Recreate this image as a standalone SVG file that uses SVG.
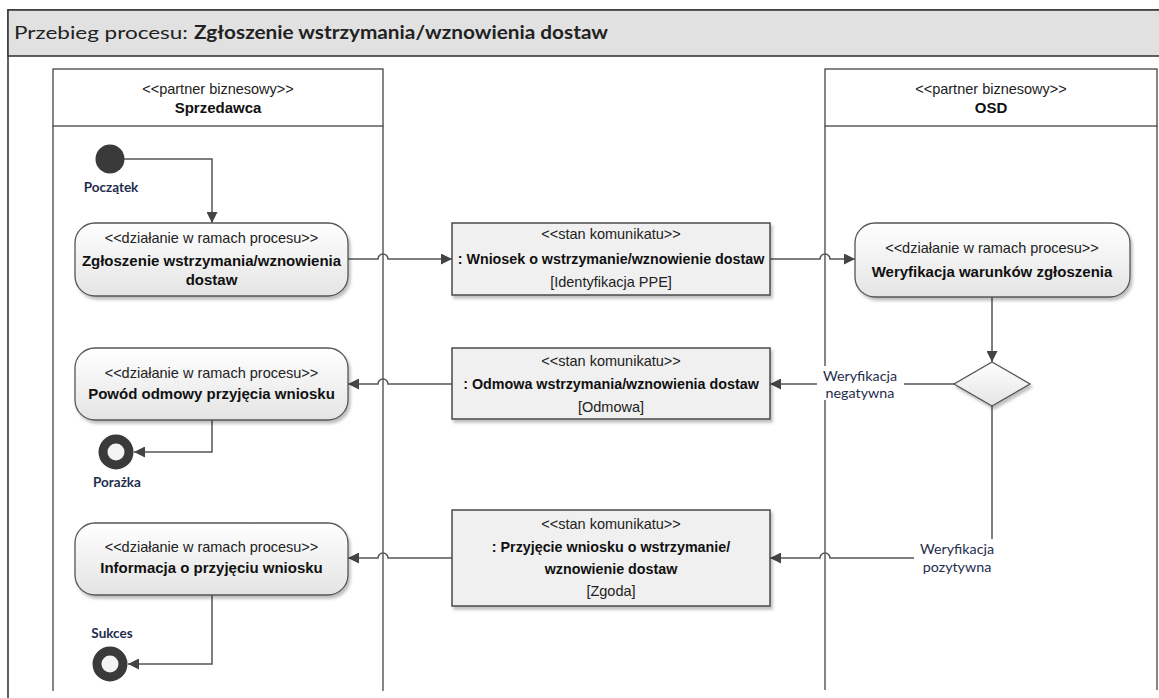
<svg xmlns="http://www.w3.org/2000/svg" width="1159" height="698" viewBox="0 0 1159 698">
<defs>
<linearGradient id="gNode" x1="0" y1="0" x2="0" y2="1">
<stop offset="0" stop-color="#ffffff"/>
<stop offset="1" stop-color="#e4e4e4"/>
</linearGradient>
<filter id="sh" x="-5%" y="-10%" width="115%" height="130%">
<feDropShadow dx="2" dy="3" stdDeviation="1.5" flood-color="#000" flood-opacity="0.25"/>
</filter>
<marker id="arr" viewBox="0 0 10 10" refX="10" refY="5" markerWidth="11" markerHeight="11" markerUnits="userSpaceOnUse" orient="auto">
<path d="M0,0 L10,5 L0,10 Z" fill="#444"/>
</marker>
<style>
.frame{fill:none;stroke:#3a3a3a;stroke-width:1.6}
.title{fill:#e1e1e1;stroke:#3a3a3a;stroke-width:1.6}
.lane{fill:none;stroke:#444;stroke-width:1.3}
.node{fill:url(#gNode);stroke:#555;stroke-width:1.3;filter:url(#sh)}
.msg{fill:#f0f0f0;stroke:#4a4a4a;stroke-width:1.5;filter:url(#sh)}
.conn{fill:none;stroke:#555;stroke-width:1.5}
.st{font-family:"Liberation Sans",Arial,sans-serif;font-size:14.5px;fill:#222;text-anchor:middle}
.nm{font-family:"Liberation Sans",Arial,sans-serif;font-size:15px;font-weight:bold;fill:#111;text-anchor:middle}
.nmb{font-family:"Liberation Sans",Arial,sans-serif;font-size:14.3px;font-weight:bold;fill:#111;text-anchor:middle}
.lbl{font-family:Lato,"Open Sans",sans-serif;font-size:14.3px;fill:#1f2d4d;text-anchor:middle}
.lblb{font-family:Lato,"Open Sans",sans-serif;font-size:13.5px;font-weight:bold;fill:#1f2d4d;text-anchor:middle}
.ttl{font-family:Lato,"Open Sans",sans-serif;font-size:18px;fill:#222}
.lblbg{fill:#ffffff}
</style>
</defs>
<rect width="1159" height="698" fill="#ffffff"/>

<g id="frame">
<rect class="frame" x="8" y="10" width="1170" height="710"/>
<rect class="title" x="8" y="10" width="1170" height="46"/>
<text class="ttl" x="14" y="39" textLength="174" lengthAdjust="spacingAndGlyphs">Przebieg procesu:</text>
<text class="ttl" x="194" y="39" font-weight="bold" textLength="414" lengthAdjust="spacingAndGlyphs">Zgłoszenie wstrzymania/wznowienia dostaw</text>
</g>

<g id="lane-sprzedawca">
<rect x="53" y="69" width="330" height="57" fill="#fff" stroke="#444" stroke-width="1.3"/>
<line class="lane" x1="53" y1="126" x2="53" y2="691"/>
<line class="lane" x1="383" y1="126" x2="383" y2="691"/>
<text class="st" x="218" y="94">&lt;&lt;partner biznesowy&gt;&gt;</text>
<text class="nm" x="218" y="113">Sprzedawca</text>
</g>

<g id="lane-osd">
<rect x="825" y="69" width="332" height="57" fill="#fff" stroke="#444" stroke-width="1.3"/>
<line class="lane" x1="825" y1="126" x2="825" y2="690"/>
<line class="lane" x1="1157" y1="126" x2="1157" y2="690"/>
<text class="st" x="991" y="94">&lt;&lt;partner biznesowy&gt;&gt;</text>
<text class="nm" x="991" y="113">OSD</text>
</g>

<g id="connectors">
<path class="conn" d="M124,159 H212 V223" marker-end="url(#arr)"/>
<path class="conn" d="M348,259 H378 a5,5 0 0 1 10,0 H452" marker-end="url(#arr)"/>
<path class="conn" d="M770,259 H820 a5,5 0 0 1 10,0 H855" marker-end="url(#arr)"/>
<path class="conn" d="M992,297 V362" marker-end="url(#arr)"/>
<path class="conn" d="M955,384 H770" marker-end="url(#arr)"/>
<path class="conn" d="M452,384 H388 a5,5 0 0 0 -10,0 H348" marker-end="url(#arr)"/>
<path class="conn" d="M212,420 V452 H134" marker-end="url(#arr)"/>
<path class="conn" d="M992,406 V558 H830 a5,5 0 0 0 -10,0 H770" marker-end="url(#arr)"/>
<path class="conn" d="M452,558 H388 a5,5 0 0 0 -10,0 H348" marker-end="url(#arr)"/>
<path class="conn" d="M212,595 V664 H128" marker-end="url(#arr)"/>
<rect class="lblbg" x="817" y="366" width="87" height="34"/>
<text class="lbl" x="860" y="381">Weryfikacja</text>
<text class="lbl" x="860" y="398">negatywna</text>
<rect class="lblbg" x="914" y="539" width="86" height="36"/>
<text class="lbl" x="957" y="554">Weryfikacja</text>
<text class="lbl" x="957" y="572">pozytywna</text>
</g>

<g id="start">
<circle cx="110" cy="159" r="14.5" fill="#3a3a3a"/>
<text class="lblb" x="111" y="192">Początek</text>
</g>

<g id="node-zgloszenie">
<rect class="node" x="75" y="223" width="273" height="73" rx="20"/>
<text class="st" x="211.5" y="243">&lt;&lt;działanie w ramach procesu&gt;&gt;</text>
<text class="nm" x="211.5" y="266">Zgłoszenie wstrzymania/wznowienia</text>
<text class="nm" x="211.5" y="285">dostaw</text>
</g>

<g id="msg-wniosek">
<rect class="msg" x="452" y="223" width="318" height="72"/>
<text class="st" x="611" y="239">&lt;&lt;stan komunikatu&gt;&gt;</text>
<text class="nmb" x="611" y="264">: Wniosek o wstrzymanie/wznowienie dostaw</text>
<text class="st" x="611" y="287">[Identyfikacja PPE]</text>
</g>

<g id="node-weryfikacja">
<rect class="node" x="855" y="223" width="275" height="74" rx="20"/>
<text class="st" x="992" y="253">&lt;&lt;działanie w ramach procesu&gt;&gt;</text>
<text class="nm" x="992" y="277">Weryfikacja warunków zgłoszenia</text>
</g>

<g id="decision">
<polygon class="node" points="992,362 1030,384 992,406 954,384"/>
</g>

<g id="msg-odmowa">
<rect class="msg" x="452" y="348" width="318" height="71"/>
<text class="st" x="611" y="366">&lt;&lt;stan komunikatu&gt;&gt;</text>
<text class="nmb" x="611" y="389">: Odmowa wstrzymania/wznowienia dostaw</text>
<text class="st" x="611" y="412">[Odmowa]</text>
</g>

<g id="node-powod">
<rect class="node" x="75" y="348" width="273" height="72" rx="20"/>
<text class="st" x="211.5" y="378">&lt;&lt;działanie w ramach procesu&gt;&gt;</text>
<text class="nm" x="211.5" y="398.5">Powód odmowy przyjęcia wniosku</text>
</g>

<g id="end-porazka">
<circle cx="116" cy="452" r="13" fill="#f3f3f3" stroke="#3a3a3a" stroke-width="9"/>
<text class="lblb" x="117" y="487">Porażka</text>
</g>

<g id="msg-przyjecie">
<rect class="msg" x="452" y="510" width="318" height="96"/>
<text class="st" x="611" y="529">&lt;&lt;stan komunikatu&gt;&gt;</text>
<text class="nmb" x="611" y="552">: Przyjęcie wniosku o wstrzymanie/</text>
<text class="nmb" x="611" y="574">wznowienie dostaw</text>
<text class="st" x="611" y="596">[Zgoda]</text>
</g>

<g id="node-informacja">
<rect class="node" x="75" y="523" width="273" height="72" rx="20"/>
<text class="st" x="211.5" y="552">&lt;&lt;działanie w ramach procesu&gt;&gt;</text>
<text class="nm" x="211.5" y="573">Informacja o przyjęciu wniosku</text>
</g>

<g id="end-sukces">
<circle cx="110" cy="664" r="13" fill="#f3f3f3" stroke="#3a3a3a" stroke-width="9"/>
<text class="lblb" x="112" y="638">Sukces</text>
</g>
</svg>
